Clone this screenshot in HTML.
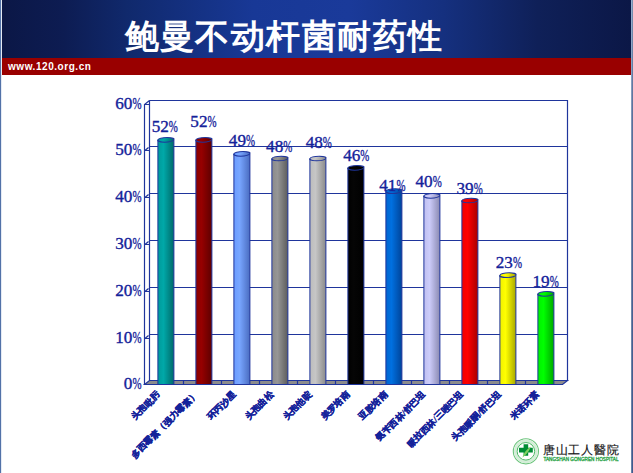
<!DOCTYPE html>
<html><head><meta charset="utf-8">
<style>
html,body{margin:0;padding:0;width:633px;height:473px;overflow:hidden;background:#fff;}
body{position:relative;font-family:"Liberation Sans",sans-serif;}
#hdr{position:absolute;left:0;top:0;width:633px;height:58px;
 background:linear-gradient(90deg,#0b1746 0%,#0d1c52 10%,#10296c 20%,#183896 40%,#1a3a9a 55%,#15307f 70%,#0f2058 85%,#0b1746 100%);}
#red{position:absolute;left:0;top:58px;width:633px;height:17px;background:#990000;}
#title{position:absolute;left:124.5px;top:13.7px;color:#fff;font-size:34px;font-weight:bold;letter-spacing:1.45px;white-space:nowrap;line-height:44px;}
#url{position:absolute;left:8px;top:59.8px;color:#fff;font-size:10px;letter-spacing:0.55px;font-weight:bold;line-height:14px;white-space:nowrap;}
#lb{position:absolute;left:0;top:0;width:2px;height:473px;background:linear-gradient(90deg,#5272a8 0%,#5272a8 50%,#e4eaf4 50%,#e4eaf4 100%);}
#rb{position:absolute;left:631px;top:0;width:1px;height:473px;background:linear-gradient(180deg,#98b0d0 0%,#8094b8 25%,#7086aa 60%,#6a80a8 100%);}
#rb2{position:absolute;left:632px;top:0;width:1px;height:473px;background:linear-gradient(180deg,#7890b0 0%,#5a709a 25%,#4a6292 60%,#3f5a8c 100%);}
svg{position:absolute;left:0;top:0;}
</style></head><body>
<div id="hdr"></div>
<div id="red"></div>
<div id="title">鲍曼不动杆菌耐药性</div>
<div id="url">www.120.org.cn</div>
<svg width="633" height="473" viewBox="0 0 633 473">
<defs><linearGradient id="g0" x1="0" x2="1"><stop offset="0" stop-color="#009a9a"/><stop offset="0.35" stop-color="#00a8a8"/><stop offset="1" stop-color="#006a6a"/></linearGradient><linearGradient id="g1" x1="0" x2="1"><stop offset="0" stop-color="#8a0000"/><stop offset="0.35" stop-color="#960000"/><stop offset="1" stop-color="#5e0000"/></linearGradient><linearGradient id="g2" x1="0" x2="1"><stop offset="0" stop-color="#6b9cff"/><stop offset="0.35" stop-color="#78a6ff"/><stop offset="1" stop-color="#4a6cc0"/></linearGradient><linearGradient id="g3" x1="0" x2="1"><stop offset="0" stop-color="#8a8a8a"/><stop offset="0.35" stop-color="#969696"/><stop offset="1" stop-color="#5c5c5c"/></linearGradient><linearGradient id="g4" x1="0" x2="1"><stop offset="0" stop-color="#bcbcbc"/><stop offset="0.35" stop-color="#c6c6c6"/><stop offset="1" stop-color="#8a8a8a"/></linearGradient><linearGradient id="g5" x1="0" x2="1"><stop offset="0" stop-color="#000000"/><stop offset="0.35" stop-color="#050505"/><stop offset="1" stop-color="#000000"/></linearGradient><linearGradient id="g6" x1="0" x2="1"><stop offset="0" stop-color="#0066d0"/><stop offset="0.35" stop-color="#0070e0"/><stop offset="1" stop-color="#00449a"/></linearGradient><linearGradient id="g7" x1="0" x2="1"><stop offset="0" stop-color="#c0c0f0"/><stop offset="0.35" stop-color="#ccccfa"/><stop offset="1" stop-color="#8a8ab2"/></linearGradient><linearGradient id="g8" x1="0" x2="1"><stop offset="0" stop-color="#f00000"/><stop offset="0.35" stop-color="#ff0000"/><stop offset="1" stop-color="#a80000"/></linearGradient><linearGradient id="g9" x1="0" x2="1"><stop offset="0" stop-color="#f0f000"/><stop offset="0.35" stop-color="#ffff00"/><stop offset="1" stop-color="#a8a800"/></linearGradient><linearGradient id="g10" x1="0" x2="1"><stop offset="0" stop-color="#00f000"/><stop offset="0.35" stop-color="#00ff00"/><stop offset="1" stop-color="#00a800"/></linearGradient></defs>
<g fill="none" stroke="#1f359c" stroke-width="1.2"><path d="M144.5,384.5 L149.5,380.5 L567.5,380.5 L562.5,384.5 Z" fill="#8c8c8c"/><path d="M149.5,100.5 H567.5 V380.5 M149.5,100.5 V380.5 M144.5,384.5 V104.5 L149.5,100.5 M144.5,104.5 H149.5 M149.5,334.5 H567.5 M149.5,287.5 H567.5 M149.5,240.5 H567.5 M149.5,193.5 H567.5 M149.5,146.5 H567.5  M144.5,338.5 H149.5 M145.3,338.2 L148.5,335.5 M144.5,291.5 H149.5 M145.3,291.2 L148.5,288.5 M144.5,244.5 H149.5 M145.3,244.2 L148.5,241.5 M144.5,197.5 H149.5 M145.3,197.2 L148.5,194.5 M144.5,150.5 H149.5 M145.3,150.2 L148.5,147.5 "/><path d="M183.5,380.5 V384.5 M221.5,380.5 V384.5 M259.5,380.5 V384.5 M297.5,380.5 V384.5 M335.5,380.5 V384.5 M373.5,380.5 V384.5 M411.5,380.5 V384.5 M449.5,380.5 V384.5 M487.5,380.5 V384.5 M525.5,380.5 V384.5 "/></g>
<g stroke="#1f359c" stroke-width="1"><path d="M157.9,139.8 L157.9,384.5 L173.9,384.5 L173.9,139.8 Z" fill="url(#g0)"/><ellipse transform="translate(165.90,139.83) skewX(-28)" cx="0" cy="0" rx="8.0" ry="2.3" fill="url(#g0)"/><path d="M195.9,139.8 L195.9,384.5 L211.9,384.5 L211.9,139.8 Z" fill="url(#g1)"/><ellipse transform="translate(203.90,139.83) skewX(-28)" cx="0" cy="0" rx="8.0" ry="2.3" fill="url(#g1)"/><path d="M233.9,153.8 L233.9,384.5 L249.9,384.5 L249.9,153.8 Z" fill="url(#g2)"/><ellipse transform="translate(241.90,153.83) skewX(-28)" cx="0" cy="0" rx="8.0" ry="2.3" fill="url(#g2)"/><path d="M271.9,158.5 L271.9,384.5 L287.9,384.5 L287.9,158.5 Z" fill="url(#g3)"/><ellipse transform="translate(279.90,158.50) skewX(-28)" cx="0" cy="0" rx="8.0" ry="2.3" fill="url(#g3)"/><path d="M309.9,158.5 L309.9,384.5 L325.9,384.5 L325.9,158.5 Z" fill="url(#g4)"/><ellipse transform="translate(317.90,158.50) skewX(-28)" cx="0" cy="0" rx="8.0" ry="2.3" fill="url(#g4)"/><path d="M347.9,167.8 L347.9,384.5 L363.9,384.5 L363.9,167.8 Z" fill="url(#g5)"/><ellipse transform="translate(355.90,167.83) skewX(-28)" cx="0" cy="0" rx="8.0" ry="2.3" fill="url(#g5)"/><path d="M385.9,191.2 L385.9,384.5 L401.9,384.5 L401.9,191.2 Z" fill="url(#g6)"/><ellipse transform="translate(393.90,191.17) skewX(-28)" cx="0" cy="0" rx="8.0" ry="2.3" fill="url(#g6)"/><path d="M423.9,195.8 L423.9,384.5 L439.9,384.5 L439.9,195.8 Z" fill="url(#g7)"/><ellipse transform="translate(431.90,195.83) skewX(-28)" cx="0" cy="0" rx="8.0" ry="2.3" fill="url(#g7)"/><path d="M461.9,200.5 L461.9,384.5 L477.9,384.5 L477.9,200.5 Z" fill="url(#g8)"/><ellipse transform="translate(469.90,200.50) skewX(-28)" cx="0" cy="0" rx="8.0" ry="2.3" fill="url(#g8)"/><path d="M499.9,275.2 L499.9,384.5 L515.9,384.5 L515.9,275.2 Z" fill="url(#g9)"/><ellipse transform="translate(507.90,275.17) skewX(-28)" cx="0" cy="0" rx="8.0" ry="2.3" fill="url(#g9)"/><path d="M537.9,293.8 L537.9,384.5 L553.9,384.5 L553.9,293.8 Z" fill="url(#g10)"/><ellipse transform="translate(545.90,293.83) skewX(-28)" cx="0" cy="0" rx="8.0" ry="2.3" fill="url(#g10)"/></g>
<g font-family="Liberation Serif" font-size="16.5" fill="#14229a" stroke="#14229a" stroke-width="0.35"><text transform="translate(123.85,389.20) scale(1.04,1)">0</text><text transform="translate(132.43,389.20) scale(0.66,1)">%</text><text transform="translate(115.27,343.20) scale(1.04,1)">10</text><text transform="translate(132.43,343.20) scale(0.66,1)">%</text><text transform="translate(115.27,296.20) scale(1.04,1)">20</text><text transform="translate(132.43,296.20) scale(0.66,1)">%</text><text transform="translate(115.27,249.20) scale(1.04,1)">30</text><text transform="translate(132.43,249.20) scale(0.66,1)">%</text><text transform="translate(115.27,202.20) scale(1.04,1)">40</text><text transform="translate(132.43,202.20) scale(0.66,1)">%</text><text transform="translate(115.27,155.20) scale(1.04,1)">50</text><text transform="translate(132.43,155.20) scale(0.66,1)">%</text><text transform="translate(115.27,109.20) scale(1.04,1)">60</text><text transform="translate(132.43,109.20) scale(0.66,1)">%</text></g>
<g font-family="Liberation Serif" font-size="16.5" fill="#14229a" stroke="#14229a" stroke-width="0.35"><text transform="translate(151.67,131.60) scale(1.04,1)">52</text><text transform="translate(168.83,131.60) scale(0.66,1)">%</text><text transform="translate(190.37,126.60) scale(1.04,1)">52</text><text transform="translate(207.53,126.60) scale(0.66,1)">%</text><text transform="translate(228.87,145.90) scale(1.04,1)">49</text><text transform="translate(246.03,145.90) scale(0.66,1)">%</text><text transform="translate(266.07,151.50) scale(1.04,1)">48</text><text transform="translate(283.23,151.50) scale(0.66,1)">%</text><text transform="translate(305.67,147.70) scale(1.04,1)">48</text><text transform="translate(322.83,147.70) scale(0.66,1)">%</text><text transform="translate(343.17,160.70) scale(1.04,1)">46</text><text transform="translate(360.33,160.70) scale(0.66,1)">%</text><text transform="translate(379.27,190.60) scale(1.04,1)">41</text><text transform="translate(396.43,190.60) scale(0.66,1)">%</text><text transform="translate(415.47,187.30) scale(1.04,1)">40</text><text transform="translate(432.63,187.30) scale(0.66,1)">%</text><text transform="translate(456.47,193.60) scale(1.04,1)">39</text><text transform="translate(473.63,193.60) scale(0.66,1)">%</text><text transform="translate(495.77,268.10) scale(1.04,1)">23</text><text transform="translate(512.93,268.10) scale(0.66,1)">%</text><text transform="translate(532.47,286.90) scale(1.04,1)">19</text><text transform="translate(549.63,286.90) scale(0.66,1)">%</text></g>
<g font-family="Liberation Serif" font-size="9" font-weight="bold" letter-spacing="0" fill="#14229a" stroke="#14229a" stroke-width="0.3" text-anchor="end"><text transform="translate(160.5,395) rotate(-45)">头孢吡肟</text><text transform="translate(198.4,395) rotate(-45)">多西霉素（强力霉素）</text><text transform="translate(236.3,395) rotate(-45)">环丙沙星</text><text transform="translate(274.2,395) rotate(-45)">头孢曲松</text><text transform="translate(312.1,395) rotate(-45)">头孢他啶</text><text transform="translate(350.0,395) rotate(-45)">美罗培南</text><text transform="translate(387.9,395) rotate(-45)">亚胺培南</text><text transform="translate(425.8,395) rotate(-45)">氨苄西林/舒巴坦</text><text transform="translate(463.7,395) rotate(-45)">哌拉西林/三唑巴坦</text><text transform="translate(501.6,395) rotate(-45)">头孢哌酮/舒巴坦</text><text transform="translate(539.5,395) rotate(-45)">米诺环素</text></g>
<g id="logo">
<circle cx="525.9" cy="451.3" r="12.6" fill="#fff" stroke="#6cc47c" stroke-width="1.1"/>
<circle cx="525.9" cy="451.3" r="10.6" fill="none" stroke="#d4eed8" stroke-width="2.6"/>
<circle cx="525.9" cy="451.3" r="8.8" fill="#fff" stroke="#4cb864" stroke-width="1"/>
<path d="M523.6,444.2 h4.6 v3.6 h4.6 v4.6 h-4.6 v3.4 h-4.6 v-3.4 h-4.6 v-4.6 h4.6 z" fill="#008c34"/>
<path d="M522.5,457.5 C524,452 527,449 531,446.5 C529,451 526.5,455 522.5,457.5 z" fill="#7fd060"/>
</g>
<text x="543" y="453.8" font-family="Liberation Serif" font-size="12" fill="#141414" stroke="#141414" stroke-width="0.15" textLength="75.6" lengthAdjust="spacing">唐山工人醫院</text>
<text x="543.4" y="461.2" font-family="Liberation Sans" font-size="5" fill="#22a040" stroke="#22a040" stroke-width="0.3" textLength="75.2" lengthAdjust="spacingAndGlyphs">TANGSHAN GONGREN HOSPITAL</text>

</svg>
<div id="lb"></div><div id="rb"></div><div id="rb2"></div>
</body></html>
